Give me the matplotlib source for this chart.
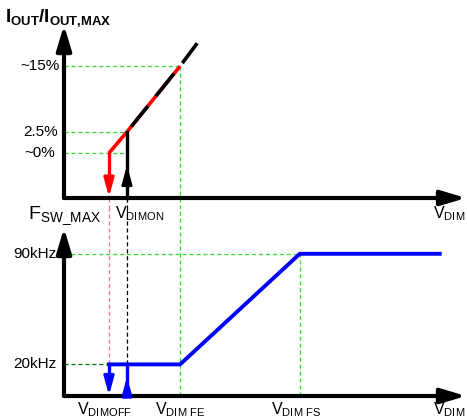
import matplotlib
matplotlib.use("Agg")
import matplotlib.pyplot as plt

plt.rcParams['font.family'] = ['Liberation Sans', 'DejaVu Sans']
plt.rcParams['mathtext.fontset'] = 'custom'
plt.rcParams['mathtext.rm'] = 'Liberation Sans'
plt.rcParams['lines.scale_dashes'] = False

# schematic V_DIM positions (arbitrary units)
v_names = [r'$\mathregular{V_{DIMOFF}}$', r'$\mathregular{V_{DIMON}}$',
           r'$\mathregular{V_{DIM\ FE}}$', r'$\mathregular{V_{DIM\ FS}}$']
v_dimoff = 1.0
v_dimon = 1.4
v_fe = 2.58
v_fs = 5.24
v_end = 8.35

# top panel: I_OUT / I_OUT,MAX (schematic levels)
i_levels = [1.0, 1.47, 2.93]
i_labels = ['~0%', '2.5%', '~15%']
i_line_end = [2.96, 3.44]

# bottom panel: F_SW_MAX in kHz
f_levels = [20, 90]
f_labels = ['20kHz', '90kHz']
f_x = [v_dimoff, v_fe, v_fs, v_end]
f_y = [20, 20, 90, 90]

W, H = 467, 418
fig = plt.figure(figsize=(W / 100, H / 100), dpi=100)

sx = 45.0          # px per V unit
x0 = 64            # px of y axes
xlim = (-x0 / sx, (W - x0) / sx)

ax1 = fig.add_axes([0, 0.5, 1, 0.5])
ax2 = fig.add_axes([0, 0, 1, 0.5])
sy1 = 45.0
ax1.set_xlim(xlim)
ax1.set_ylim((198 - 209) / sy1, 198 / sy1)
sy2 = 1.58
ax2.set_xlim(xlim)
ax2.set_ylim((396 - 418) / sy2, (396 - 209) / sy2)
for a in (ax1, ax2):
    a.axis('off')

green = '#33dd33'
lred = '#ff7777'
blue = '#0000ff'
red = '#ff0000'


def arrow(ax, start, tip, color, lw, hl, hw):
    ax.annotate('', xy=tip, xytext=start,
                arrowprops=dict(arrowstyle='-|>,head_length=%s,head_width=%s' % (hl, hw),
                                color=color, lw=lw, shrinkA=0, shrinkB=0,
                                mutation_scale=10), annotation_clip=False)


# ---- guide lines, top
thin = dict(lw=0.9, ls=(0, (3, 2)))
ax1.plot([0, v_fe], [i_levels[2]] * 2, color=green, **thin)
ax1.plot([0, v_dimon], [i_levels[1]] * 2, color=green, **thin)
ax1.plot([0, v_dimon], [i_levels[0]] * 2, color=green, **thin)
ax1.plot([v_fe, v_fe], [i_levels[2], -1], color=green, **thin)
ax1.plot([v_dimoff, v_dimoff], [0, -1], color=lred, **thin)
ax1.plot([v_dimon, v_dimon], [0, -1], color='k', **thin)

# ---- guide lines, bottom
ax2.plot([v_fe, v_fe], [0, 200], color=green, **thin)
ax2.plot([v_fs, v_fs], [0, f_levels[1]], color=green, **thin)
ax2.plot([0, v_fs], [f_levels[1]] * 2, color=green, **thin)
ax2.plot([0, v_dimoff], [f_levels[0]] * 2, color='#007700', **thin)
ax2.plot([v_dimoff, v_dimoff], [f_levels[0], 200], color=lred, **thin)
ax2.plot([v_dimon, v_dimon], [f_levels[0], 200], color='k', **thin)

# ---- axes arrows
arrow(ax1, (0, 0), (0, (198 - 25) / sy1), 'k', 3, 1.5, 0.45)
arrow(ax1, (0, 0), ((W - 1 - x0) / sx, 0), 'k', 3, 1.5, 0.45)
arrow(ax2, (0, 0), (0, (396 - 228) / sy2), 'k', 3, 1.5, 0.45)
arrow(ax2, (0, 0), ((W - 1 - x0) / sx, 0), 'k', 3, 1.5, 0.45)

# ---- top curve
ax1.plot([v_dimoff, v_dimon], i_levels[:2], color=red, lw=2.6, solid_capstyle='butt')
ax1.plot([v_dimon, v_fe], i_levels[1:], color=red, lw=2.6, solid_capstyle='butt')
ax1.plot([v_dimon, v_fe], i_levels[1:], color='k', lw=2.6,
         ls=(57, (19, 9, 21, 13)), solid_capstyle='butt')
ax1.plot([v_fe + 0.05, i_line_end[0]],
         [i_levels[2] + 0.05 * (i_line_end[1] - i_levels[2]) / (i_line_end[0] - v_fe),
          i_line_end[1]], color='k', lw=2.6, solid_capstyle='butt')
# red drop arrow
ax1.plot([v_dimoff, v_dimoff], [i_levels[0], 0.4], color=red, lw=2.4)
arrow(ax1, (v_dimoff, 0.5), (v_dimoff, 0.02), red, 2.2, 1.1, 0.3)
# black rise arrow
ax1.plot([v_dimon, v_dimon], [0, i_levels[1]], color='k', lw=2.4)
arrow(ax1, (v_dimon, 0.3), (v_dimon, 0.73), 'k', 2.0, 1.1, 0.3)

# ---- bottom curve
ax2.plot(f_x, f_y, color=blue, lw=2.8, solid_joinstyle='miter')
ax2.plot([v_dimoff, v_dimoff], [f_levels[0], 8], color=blue, lw=2.4)
arrow(ax2, (v_dimoff, 12), (v_dimoff, 0.3), blue, 2.2, 1.1, 0.3)
ax2.plot([v_dimon, v_dimon], [0, f_levels[0]], color=blue, lw=2.4)
arrow(ax2, (v_dimon, 4), (v_dimon, 12.2), blue, 2.0, 1.1, 0.3)

# ---- tick labels
fs = 11
for lv, lb, xr in zip(i_levels, i_labels, [55, 58, 60]):
    ax1.text((xr - x0) / sx, lv, lb, ha='right', va='center', fontsize=fs)
for lv, lb in zip(f_levels, f_labels):
    ax2.text((57 - x0) / sx, lv, lb, ha='right', va='center', fontsize=fs)

# ---- axis titles
ax1.text((5 - x0) / sx, (198 - 18) / sy1, r'$\mathregular{I_{OUT}/I_{OUT{,}MAX}}$',
         ha='left', va='center', fontsize=13.5, fontweight='bold')
ax2.text((28 - x0) / sx, (396 - 216) / sy2, r'$\mathregular{F_{SW\_MAX}}$',
         ha='left', va='center', fontsize=14)

# ---- V_DIM labels
lab = 11.5
ax1.text(v_dimon - 12 / sx, (198 - 214) / sy1, v_names[1], ha='left', va='center', fontsize=lab)
ax1.text((433 - x0) / sx, (198 - 214) / sy1, r'$\mathregular{V_{DIM}}$', ha='left', va='center', fontsize=lab)
yb = (396 - 410) / sy2
ax2.text(v_dimoff - 4 / sx, yb, v_names[0], ha='center', va='center', fontsize=lab)
ax2.text(v_fe, yb, v_names[2], ha='center', va='center', fontsize=lab)
ax2.text(v_fs - 3 / sx, yb, v_names[3], ha='center', va='center', fontsize=lab)
ax2.text((433 - x0) / sx, yb, r'$\mathregular{V_{DIM}}$', ha='left', va='center', fontsize=lab)

fig.savefig('out.png', dpi=100)
